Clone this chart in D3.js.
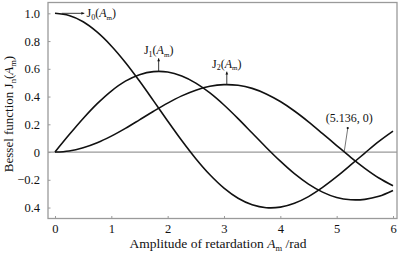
<!DOCTYPE html>
<html>
<head>
<meta charset="utf-8">
<script src="https://cdn.jsdelivr.net/npm/d3@7"></script>
<style>
  body { margin: 0; background: #fff; }
  text { font-family: "Liberation Serif", "DejaVu Serif", serif; fill: #111; }
</style>
</head>
<body>
<div id="chart"></div>
<script>
// values, step 0.25 from 0 to 6
const amp = [0, 0.25, 0.5, 0.75, 1, 1.25, 1.5, 1.75, 2, 2.25, 2.5, 2.75, 3,
    3.25, 3.5, 3.75, 4, 4.25, 4.5, 4.75, 5, 5.25, 5.5, 5.75, 6];
const j0 = [1, 0.984, 0.939, 0.864, 0.765, 0.646, 0.512, 0.369, 0.224, 0.083,
    -0.048, -0.164, -0.260, -0.333, -0.380, -0.401, -0.397, -0.369, -0.321,
    -0.255, -0.178, -0.093, -0.007, 0.077, 0.151];
const j1 = [0, 0.124, 0.242, 0.349, 0.440, 0.511, 0.558, 0.580, 0.577, 0.548,
    0.497, 0.426, 0.339, 0.241, 0.137, 0.033, -0.066, -0.156, -0.231, -0.289,
    -0.328, -0.344, -0.341, -0.319, -0.277];
const j2 = [0, 0.008, 0.031, 0.067, 0.115, 0.171, 0.232, 0.294, 0.353, 0.405,
    0.446, 0.474, 0.486, 0.481, 0.459, 0.419, 0.364, 0.296, 0.218, 0.133,
    0.047, -0.038, -0.117, -0.187, -0.243];

const xTicks = [0, 1, 2, 3, 4, 5, 6];
const yTicks = [1.0, 0.8, 0.6, 0.4, 0.2, 0, -0.2, -0.4];
const yTickLabels = ["1.0", "0.8", "0.6", "0.4", "0.2", "0", "\u22120.2", "0.4"];

// annotation points on the curves
const peakJ1 = [1.84, 0.582];
const peakJ2 = [3.05, 0.486];
const zeroPt = [5.136, 0];

let width = 400,
    height = 253,
    margin = ({ top: 2.5, right: 3, bottom: 34.5, left: 48 });

const svg = d3.select("#chart")
    .append("svg")
    .attr("width", width)
    .attr("height", height);

let xScale = d3.scaleLinear()
    .domain([-0.124, 6.071])
    .range([margin.left, width - margin.right]);

let yScale = d3.scaleLinear()
    .domain([-0.479, 1.078])
    .range([height - margin.bottom, margin.top]);

const frame = "#9a9a9a";

// frame box
svg.append("rect")
    .attr("x", margin.left)
    .attr("y", margin.top)
    .attr("width", width - margin.left - margin.right)
    .attr("height", height - margin.top - margin.bottom)
    .attr("fill", "none")
    .attr("stroke", frame)
    .attr("stroke-width", 1.3);

// zero line
svg.append("line")
    .attr("x1", margin.left).attr("x2", width - margin.right)
    .attr("y1", yScale(0)).attr("y2", yScale(0))
    .attr("stroke", frame)
    .attr("stroke-width", 1.2);

// axes
const xAxis = svg.append("g")
    .attr("transform", `translate(0,${height - margin.bottom})`)
    .call(d3.axisBottom(xScale).tickValues(xTicks).tickSize(-2.5).tickPadding(6)
        .tickFormat(d3.format("d")));
xAxis.select(".domain").remove();
xAxis.selectAll(".tick line").attr("stroke", frame);
xAxis.selectAll("text").attr("font-size", 12.5).attr("fill", "#111")
    .attr("font-family", "Liberation Serif");

const yAxis = svg.append("g")
    .attr("transform", `translate(${margin.left},0)`)
    .call(d3.axisLeft(yScale).tickValues(yTicks).tickSize(-2.5).tickPadding(8)
        .tickFormat((d, i) => yTickLabels[i]));
yAxis.select(".domain").remove();
yAxis.selectAll(".tick line").attr("stroke", frame);
yAxis.selectAll("text").attr("font-size", 12.5).attr("fill", "#111")
    .attr("font-family", "Liberation Serif");

// curves
const line = d3.line()
    .x(d => xScale(d[0]))
    .y(d => yScale(d[1]))
    .curve(d3.curveCatmullRom);

[j0, j1, j2].forEach(s => {
    svg.append("path")
        .datum(amp.map((a, i) => [a, s[i]]))
        .attr("fill", "none")
        .attr("stroke", "#111")
        .attr("stroke-width", 1.6)
        .attr("d", line);
});

// J_n(A_m) style label
function besselLabel(g, x, y, sub, anchor) {
    const t = g.append("text")
        .attr("x", x).attr("y", y)
        .attr("font-size", 12)
        .attr("text-anchor", anchor);
    t.append("tspan").text("J");
    t.append("tspan").attr("font-size", 8).attr("dy", 2.5).text(sub);
    t.append("tspan").attr("dy", -2.5).text("(");
    t.append("tspan").attr("font-style", "italic").text("A");
    t.append("tspan").attr("font-size", 7).attr("dy", 2.5).text("m");
    t.append("tspan").attr("dy", -2.5).text(")");
    return t;
}

function arrow(x1, y1, x2, y2) {
    const ang = Math.atan2(y2 - y1, x2 - x1);
    svg.append("line")
        .attr("x1", x1).attr("y1", y1).attr("x2", x2).attr("y2", y2)
        .attr("stroke", "#222").attr("stroke-width", 0.9);
    const s = 3.2;
    const p = [[x2, y2],
        [x2 - s * Math.cos(ang - 0.45), y2 - s * Math.sin(ang - 0.45)],
        [x2 - s * Math.cos(ang + 0.45), y2 - s * Math.sin(ang + 0.45)]];
    svg.append("path").attr("d", "M" + p.join("L") + "Z").attr("fill", "#111");
}

// J0 label
arrow(xScale(0.12), yScale(1.0), xScale(0.52), yScale(1.0));
besselLabel(svg, xScale(0.56), yScale(1.0) + 4, "0", "start");

// J1 label
arrow(xScale(peakJ1[0]), yScale(peakJ1[1]), xScale(peakJ1[0]), yScale(peakJ1[1]) - 13);
besselLabel(svg, xScale(peakJ1[0]), yScale(peakJ1[1]) - 17, "1", "middle");

// J2 label
arrow(xScale(peakJ2[0]), yScale(peakJ2[1]), xScale(peakJ2[0]), yScale(peakJ2[1]) - 13);
besselLabel(svg, xScale(peakJ2[0]), yScale(peakJ2[1]) - 17, "2", "middle");

// zero crossing label
svg.append("line")
    .attr("x1", xScale(zeroPt[0])).attr("y1", yScale(zeroPt[1]) - 1)
    .attr("x2", xScale(zeroPt[0]) + 3.4).attr("y2", yScale(zeroPt[1]) - 23.5)
    .attr("stroke", "#666").attr("stroke-width", 0.9);
svg.append("circle")
    .attr("cx", xScale(zeroPt[0]) + 3.4).attr("cy", yScale(zeroPt[1]) - 24)
    .attr("r", 1.1).attr("fill", "#111");
svg.append("text")
    .attr("x", xScale(zeroPt[0]) + 5).attr("y", yScale(zeroPt[1]) - 30)
    .attr("text-anchor", "middle")
    .attr("font-size", 12)
    .text("(5.136, 0)");

// axis titles
const xt = svg.append("text")
    .attr("x", 218).attr("y", 248)
    .attr("text-anchor", "middle")
    .attr("font-size", 13.5);
xt.append("tspan").text("Amplitude of retardation ");
xt.append("tspan").attr("font-style", "italic").text("A");
xt.append("tspan").attr("font-size", 8.5).attr("dy", 2.5).text("m");
xt.append("tspan").attr("dy", -2.5).text(" /rad");

const yt = svg.append("text")
    .attr("transform", "translate(13,114) rotate(-90)")
    .attr("text-anchor", "middle")
    .attr("font-size", 13);
yt.append("tspan").text("Bessel function J");
yt.append("tspan").attr("font-size", 8.5).attr("dy", 2.5).text("n");
yt.append("tspan").attr("dy", -2.5).text("(");
yt.append("tspan").attr("font-style", "italic").text("A");
yt.append("tspan").attr("font-size", 8.5).attr("dy", 2.5).text("m");
yt.append("tspan").attr("dy", -2.5).text(")");
</script>
</body>
</html>
